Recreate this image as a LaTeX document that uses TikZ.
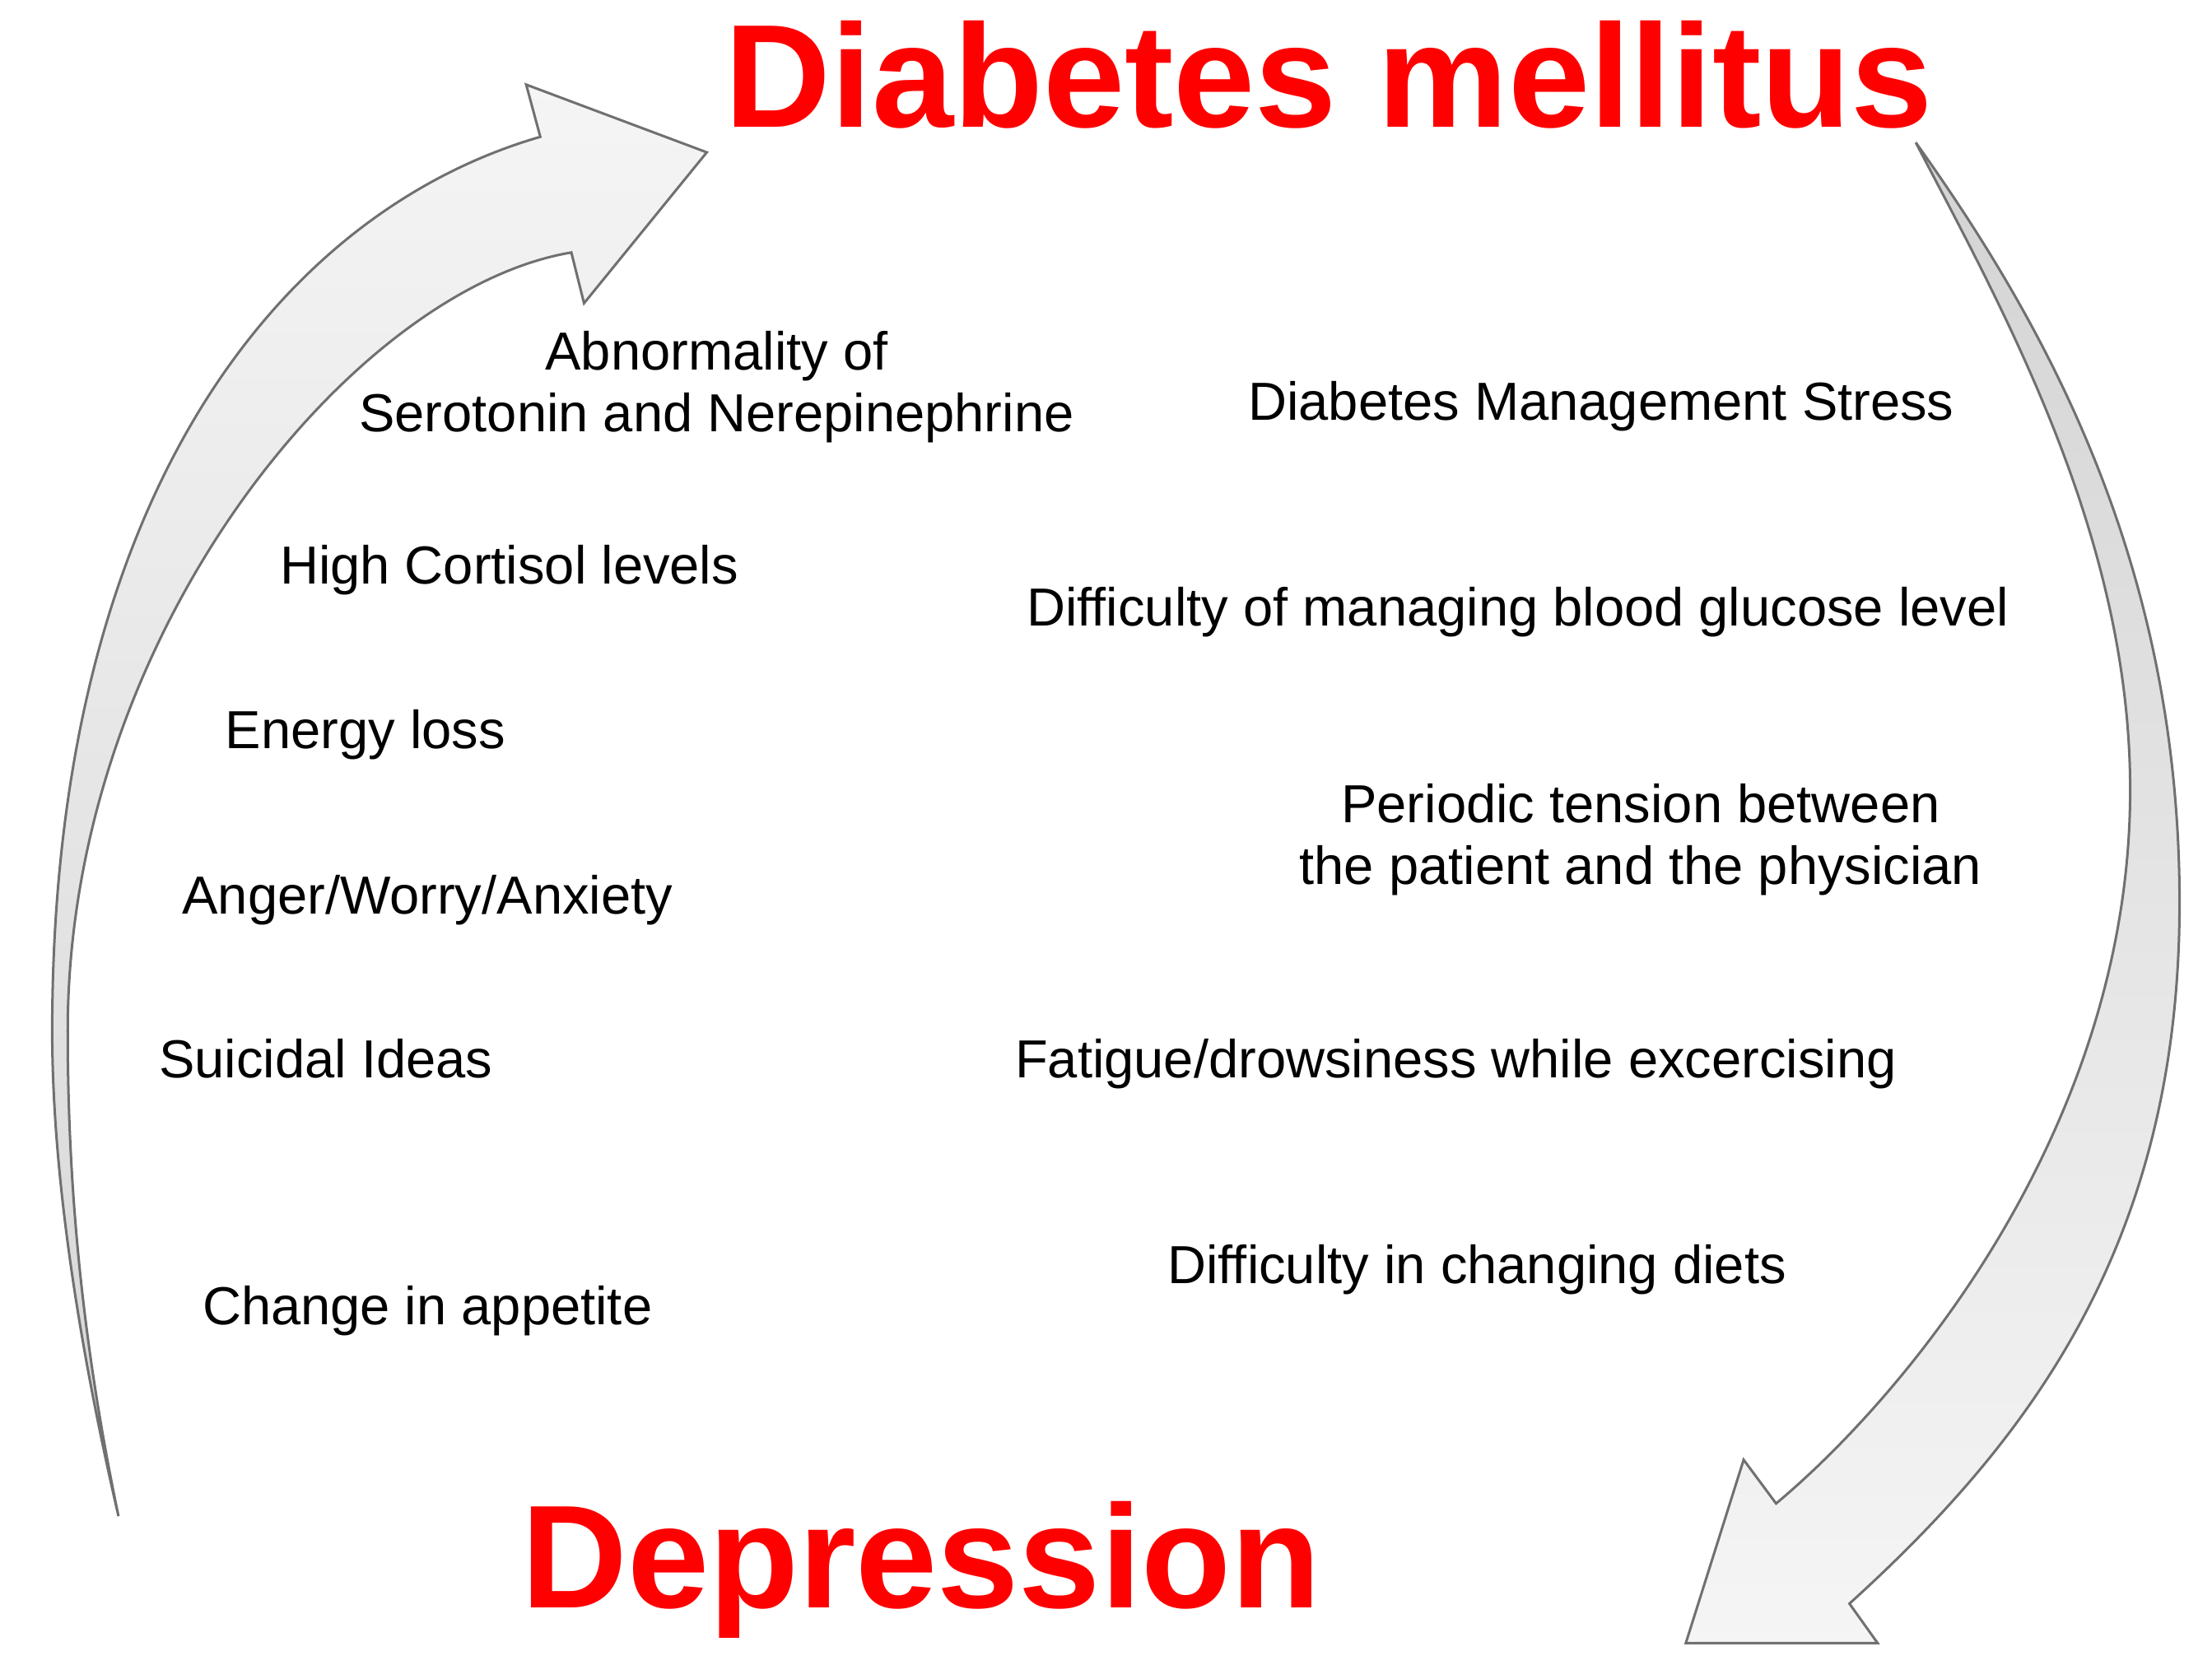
\documentclass[tikz,border=0pt]{standalone}
\usepackage{fontspec}
\setmainfont{Liberation Sans}
\definecolor{arrowline}{RGB}{112,112,112}
\begin{document}
\begin{tikzpicture}[x=0.01cm,y=-0.01cm,
  lbl/.style={font=\fontsize{10.8}{12.5}\selectfont, anchor=base, inner sep=0pt, align=center},
  bigtitle/.style={font=\fontsize{29.6}{34}\selectfont\bfseries, text=red, anchor=base, inner sep=0pt},
  bigarrow/.style={draw=arrowline, line width=0.5pt, line join=miter}]
\path[use as bounding box] (0,0) rectangle (1568,1190);

% left curved arrow (Depression -> Diabetes mellitus)
\coordinate (lt) at (84,1075);
\path[bigarrow, top color=gray!8, bottom color=gray!32]
  (lt) .. controls (55,950) and (37,830) .. (37,731)
  .. controls (37,350) and (200,150) .. (383,97)
  -- (373,60) -- (501,108) -- (414,215) -- (405,179)
  .. controls (250,205) and (48,450) .. (48,731)
  .. controls (48,850) and (60,960) .. (lt)
  -- cycle;

% right curved arrow (Diabetes mellitus -> Depression)
\coordinate (rt) at (1358,101);
\path[bigarrow, top color=gray!34, bottom color=gray!8]
  (rt) .. controls (1450,230) and (1545,400) .. (1545,640)
  .. controls (1545,880) and (1440,1020) .. (1311,1137)
  -- (1331,1165) -- (1195,1165) -- (1236,1035) -- (1259,1066)
  .. controls (1350,990) and (1510,800) .. (1510,560)
  .. controls (1510,380) and (1420,220) .. (rt)
  -- cycle;

% titles
\node[bigtitle] (dm) at (942,90) {Diabetes mellitus};
\node[bigtitle] (dep) at (653,1140) {Depression};

% left column
\node[lbl] (abn) at (508,306) {Abnormality of\\Serotonin and Nerepinephrine};
\node[lbl] (cort) at (361,414) {High Cortisol levels};
\node[lbl] (energy) at (259,531) {Energy loss};
\node[lbl] (anger) at (303,648) {Anger/Worry/Anxiety};
\node[lbl] (suic) at (231,764) {Suicidal Ideas};
\node[lbl] (appet) at (303,939) {Change in appetite};

% right column
\node[lbl] (stress) at (1135,298) {Diabetes Management Stress};
\node[lbl] (gluc) at (1076,444) {Difficulty of managing blood glucose level};
\node[lbl] (tension) at (1163,627) {Periodic tension between\\the patient and the physician};
\node[lbl] (fatigue) at (1032,764) {Fatigue/drowsiness while excercising};
\node[lbl] (diets) at (1047,910) {Difficulty in changing diets};
\end{tikzpicture}
\end{document}
